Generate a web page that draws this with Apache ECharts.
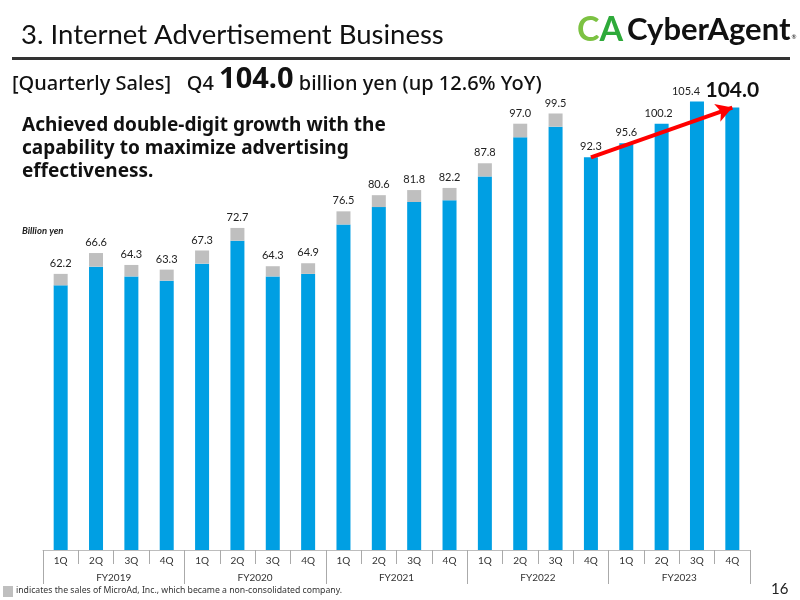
<!DOCTYPE html>
<html>
<head>
<meta charset="utf-8">
<script src="https://cdn.jsdelivr.net/npm/echarts@6/dist/echarts.min.js"></script>
<style>
  html, body { margin: 0; padding: 0; background: #fff; }
  #main { width: 800px; height: 600px; }
</style>
</head>
<body>
<div id="main"></div>
<script>
var quarters = ['1Q','2Q','3Q','4Q','1Q','2Q','3Q','4Q','1Q','2Q','3Q','4Q','1Q','2Q','3Q','4Q','1Q','2Q','3Q','4Q'];
var years = ['FY2019','FY2020','FY2021','FY2022','FY2023'];
// sales excluding MicroAd (the labelled numbers)
var sales = [62.2, 66.6, 64.3, 63.3, 67.3, 72.7, 64.3, 64.9, 76.5, 80.6, 81.8, 82.2, 87.8, 97.0, 99.5, 92.3, 95.6, 100.2, 105.4, 104.0];
// MicroAd portion (grey)
var microAd = [2.7, 3.2, 2.7, 2.6, 3.1, 3.0, 2.4, 2.5, 3.1, 2.8, 2.8, 2.9, 3.1, 3.2, 3.1, 0, 0, 0, 0, 0];

var FONT = 'Lato, "Noto Sans", sans-serif';
var WIDE = '"Noto Sans", sans-serif';

var chart = echarts.init(document.getElementById('main'), null, {renderer: 'canvas'});

var labelData = microAd.map(function(v, i) {
    var item = {value: v};
    if (i === 17) item.label = {offset: [-3, 0]};
    if (i === 18) item.label = {offset: [-11, 0]};
    if (i === 19) item.label = {fontSize: 21, fontWeight: 'bold', color: '#111', offset: [0, -2]};
    return item;
});

chart.setOption({
    animation: false,
    textStyle: {fontFamily: FONT},
    grid: {left: 43, right: 50, top: 82, bottom: 50},
    xAxis: [{
        type: 'category',
        data: quarters,
        position: 'bottom',
        axisLine: {lineStyle: {color: '#bdbdbd', width: 1}},
        axisTick: {show: true, interval: 0, length: 14, lineStyle: {color: '#aaaaaa'}},
        axisLabel: {interval: 0, fontSize: 10, color: '#333', margin: 6, fontFamily: FONT}
    }, {
        type: 'category',
        data: years,
        position: 'bottom',
        axisLine: {show: false},
        axisTick: {show: true, interval: 0, length: 34, lineStyle: {color: '#aaaaaa'}},
        axisLabel: {interval: 0, fontSize: 10, color: '#333', margin: 23, fontFamily: FONT}
    }],
    yAxis: {
        type: 'value', min: 0, max: 110, show: false,
        splitLine: {show: false}
    },
    series: [{
        name: 'Sales',
        type: 'bar',
        stack: 'total',
        xAxisIndex: 0,
        barWidth: 14,
        data: sales,
        itemStyle: {color: '#009fe3'},
        markLine: {
            silent: true,
            symbol: ['none', 'arrow'],
            symbolSize: [14, 16],
            label: {show: false},
            lineStyle: {color: '#ff0000', width: 4, type: 'solid'},
            data: [[{coord: [15, sales[15]]}, {coord: [19, sales[19]]}]]
        }
    }, {
        name: 'MicroAd',
        type: 'bar',
        stack: 'total',
        xAxisIndex: 0,
        barWidth: 14,
        data: labelData,
        itemStyle: {color: '#bfbfbf'},
        label: {
            show: true,
            position: 'top',
            distance: 5,
            fontSize: 11,
            color: '#222',
            fontFamily: FONT,
            formatter: function(p) { return sales[p.dataIndex].toFixed(1); }
        }
    }],
    graphic: [
        {type: 'text', left: 21, top: 21, style: {text: '3. Internet Advertisement Business', font: '27.5px ' + FONT, fill: '#111'}},
        {type: 'rect', shape: {x: 12, y: 57, width: 778, height: 3}, style: {fill: '#333'}},
        {type: 'text', left: 577, top: 13, style: {
            text: '{c|C}{a|A}{t|CyberAgent}{r|®}',
            rich: {
                c: {fontSize: 34, fontWeight: 'bold', fill: '#7cc242', fontFamily: FONT},
                a: {fontSize: 34, fontWeight: 'bold', fill: '#2eaa3a', fontFamily: FONT},
                t: {fontSize: 31, fontWeight: 'bold', fill: '#111', fontFamily: FONT, padding: [0, 0, 0, 4]},
                r: {fontSize: 6, fill: '#111', fontFamily: FONT, padding: [14, 0, 0, 1]}
            }
        }},
        {type: 'text', left: 12, top: 65, style: {
            text: '{n|[Quarterly Sales]   Q4 }{b|104.0}{n| billion yen (up 12.6% YoY)}',
            rich: {
                n: {fontSize: 20, fontWeight: 500, fill: '#111', fontFamily: WIDE, verticalAlign: 'bottom'},
                b: {fontSize: 29, fontWeight: 'bold', fill: '#111', fontFamily: WIDE, verticalAlign: 'bottom'}
            }
        }},
        {type: 'text', left: 22, top: 114, style: {
            text: 'Achieved double-digit growth with the\ncapability to maximize advertising\neffectiveness.',
            font: 'bold 19px ' + WIDE, fill: '#111', lineHeight: 23
        }},
        {type: 'text', left: 22, top: 226, style: {text: 'Billion yen', font: 'italic bold 9.5px ' + FONT, fill: '#222'}},
        {type: 'rect', shape: {x: 3, y: 586, width: 10, height: 11}, style: {fill: '#bfbfbf'}},
        {type: 'text', left: 16, top: 586, style: {text: 'indicates the sales of MicroAd, Inc., which became a non-consolidated company.', font: '8.7px ' + WIDE, fill: '#333'}},
        {type: 'text', left: 771, top: 582, style: {text: '16', font: '15px ' + FONT, fill: '#222'}}
    ]
});
</script>
</body>
</html>
